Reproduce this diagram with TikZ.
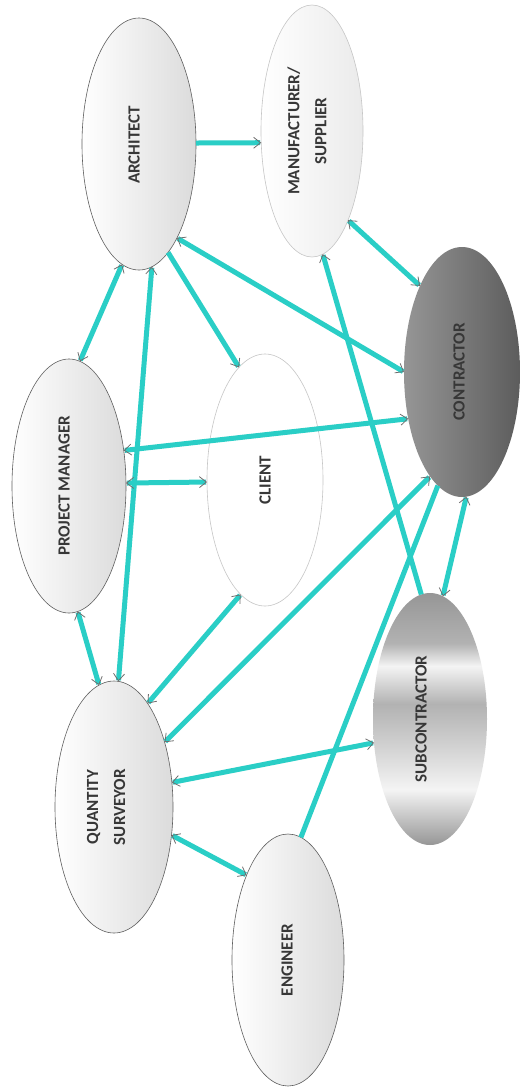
\documentclass[tikz,border=0pt]{standalone}
\usepackage{fontspec}
\setmainfont{Carlito}
\usetikzlibrary{arrows.meta,shapes.geometric}
\definecolor{cy}{RGB}{42,206,198}
\definecolor{tipc}{RGB}{110,110,110}
\definecolor{txt}{RGB}{55,55,55}
\definecolor{edge}{RGB}{95,95,95}
\definecolor{sb1}{RGB}{150,150,150}
\definecolor{sb2}{RGB}{178,178,178}
\definecolor{sb3}{RGB}{208,208,208}
\definecolor{sbw}{RGB}{244,244,244}
\pgfdeclareverticalshading{subsh}{100bp}{color(0bp)=(sb1); color(25bp)=(sb1); color(36bp)=(sbw); color(45bp)=(sb3); color(53bp)=(sb2); color(60.5bp)=(sbw); color(65bp)=(sb2); color(75bp)=(sb1); color(100bp)=(sb1)}
\begin{document}
\begin{tikzpicture}[x=1pt,y=-1pt,
  >={Straight Barb[color=tipc,length=7pt,width=11pt,line width=0.8pt]},
  role/.style={ellipse,inner sep=0pt,outer sep=0pt,minimum width=114pt,minimum height=252pt},
  light/.style={role,draw=edge,line width=0.6pt,left color=white,right color=gray!28},
  lbl/.style={rotate=90,font=\fontsize{17}{27}\selectfont\bfseries,text=txt,align=center},
  conn/.style={draw=cy,line width=5pt}]
\useasboundingbox[fill=white] (0,0) rectangle (522,1088);
% ellipses
\node[light] (A) at (139,144) {};
\node[role,minimum width=102pt,draw=gray!45,line width=0.6pt,left color=white,right color=gray!16] (M) at (312,131) {};
\node[role,minimum width=116pt,minimum height=250pt,left color={rgb,255:red,150;green,150;blue,150},right color={rgb,255:red,92;green,92;blue,92}] (C) at (462,372) {};
\node[role,minimum width=116pt,draw=gray!45,line width=0.6pt,fill=white] (Cl) at (265,480) {};
\node[light,minimum height=254pt] (PM) at (69,486) {};
\node[light,minimum width=118pt] (QS) at (114,807) {};
\node[light,minimum width=112pt] (E) at (288,960) {};
\node[role,shading=subsh] (S) at (430,719) {};
% labels
\node[lbl] (At) at (134,145) {ARCHITECT};
\node[lbl] (Mt) at (307,131) {MANUFACTURER/\\SUPPLIER};
\node[lbl] (Ct) at (459,372) {CONTRACTOR};
\node[lbl] (Clt) at (265,480) {CLIENT};
\node[lbl] (PMt) at (64,486) {PROJECT MANAGER};
\node[lbl] (QSt) at (106,807) {QUANTITY\\SURVEYOR};
\node[lbl] (Et) at (287,960) {ENGINEER};
\node[lbl] (St) at (421,719) {SUBCONTRACTOR};
% connectors
\draw[conn,->] (A.1) -- (M.193);
\draw[conn,<->] (M.292) -- (C.116);
\draw[conn,->] (S.94) -- (M.275);
\draw[conn,<->] (A.292) -- (C.180);
\draw[conn,->] (A.285) -- (Cl.103);
\draw[conn,<->] (PM.85) -- (A.262);
\draw[conn,<->] (A.276) -- (QS.88.6);
\draw[conn,<->] (PM.33) -- (C.221);
\draw[conn,<->] (PM.3) -- (Cl.182);
\draw[conn,<->] (PM.274.6) -- (QS.97.7);
\draw[conn,<->] (Cl.258.5) -- (QS.72.4);
\draw[conn,<->] (C.253.7) -- (QS.52.7);
\draw[conn] (E.84.2) -- (C.258.1);
\draw[conn,<->] (C.272) -- (S.84);
\draw[conn,<->] (QS.23.4) -- (S.203.5);
\draw[conn,<->] (QS.334.3) -- (E.116.3);
\end{tikzpicture}
\end{document}
